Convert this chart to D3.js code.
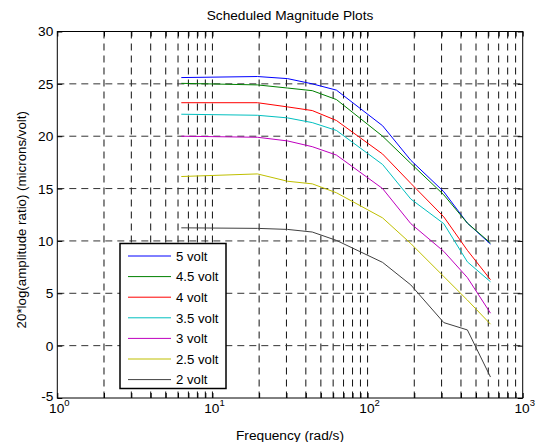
<!DOCTYPE html>
<html>
<head>
<meta charset="utf-8">
<script src="https://cdn.jsdelivr.net/npm/d3@7"></script>
<style>
  body { margin: 0; background: #fff; }
  svg { display: block; font-family: "Liberation Sans", Arial, sans-serif; }
</style>
</head>
<body>
<div class="main_area"></div>
<script>
// frequencies (rad/s) where the curves were sampled
const freq = [6.3, 19.5, 30.5, 44, 63, 125, 190, 310, 440, 620];

const volt5   = [25.6, 25.7, 25.5, 25.0, 24.4, 21.0, 17.7, 14.7, 11.7, 9.7];
const volt4_5 = [25.05, 24.9, 24.6, 24.35, 23.5, 20.0, 17.4, 14.4, 11.7, 9.8];
const volt4   = [23.2, 23.2, 22.8, 22.45, 21.5, 18.3, 15.5, 12.3, 9.1, 6.3];
const volt3_5 = [22.1, 22.0, 21.75, 21.3, 20.55, 17.3, 14.0, 11.65, 8.0, 6.1];
const volt3   = [20.0, 19.9, 19.55, 19.0, 18.2, 15.0, 11.65, 9.0, 6.5, 3.1];
const volt2_5 = [16.15, 16.4, 15.7, 15.45, 14.6, 12.2, 9.75, 6.6, 4.35, 2.05];
const volt2   = [11.25, 11.2, 11.1, 10.85, 10.05, 7.95, 5.8, 2.2, 1.5, -3.0];

const seriesNames = ["5 volt", "4.5 volt", "4 volt", "3.5 volt", "3 volt", "2.5 volt", "2 volt"];
const seriesValues = [volt5, volt4_5, volt4, volt3_5, volt3, volt2_5, volt2];
const seriesColors = ["#0000ff", "#008000", "#ff0000", "#00bfbf", "#bf00bf", "#bfbf00", "#404040"];

const yTicks = [-5, 0, 5, 10, 15, 20, 25, 30];
const xDecades = [1, 10, 100, 1000];

const width = 536, height = 442;
const plotLeft = 57.3, plotRight = 522.7, plotTop = 31.5, plotBottom = 398;
const fontSize = 13.7;

const svg = d3.select(".main_area")
  .append("svg")
  .attr("width", width)
  .attr("height", height);

const x = d3.scaleLog()
  .domain([1, 1000])
  .range([plotLeft, plotRight]);

const y = d3.scaleLinear()
  .domain([-5, 30])
  .range([plotBottom, plotTop]);

// all log grid positions: 1..9, 10..90, 100..900, 1000
const xGrid = [];
for (let d = 1; d < 1000; d *= 10) {
  for (let k = 1; k < 10; k++) xGrid.push(d * k);
}
xGrid.push(1000);

// grid lines
const grid = svg.append("g").attr("class", "grid");
grid.selectAll("line.vx")
  .data(xGrid.filter(d => d > 1 && d < 1000))
  .enter().append("line")
    .attr("class", "vx")
    .attr("x1", d => x(d)).attr("x2", d => x(d))
    .attr("y1", plotTop).attr("y2", plotBottom)
    .attr("stroke", "#111")
    .attr("stroke-width", 1)
    .attr("stroke-dasharray", "7,5");

grid.selectAll("line.hy")
  .data(yTicks.filter(d => d > -5 && d < 30))
  .enter().append("line")
    .attr("class", "hy")
    .attr("x1", plotLeft).attr("x2", plotRight)
    .attr("y1", d => y(d)).attr("y2", d => y(d))
    .attr("stroke", "#333")
    .attr("stroke-width", 1)
    .attr("stroke-dasharray", "7,5");

// inward ticks on all four sides
const xAxisB = d3.axisBottom(x).tickValues(xGrid).tickSize(-5).tickFormat("");
const xAxisT = d3.axisTop(x).tickValues(xGrid).tickSize(-5).tickFormat("");
const yAxisL = d3.axisLeft(y).tickValues(yTicks).tickSize(-5).tickFormat("");
const yAxisR = d3.axisRight(y).tickValues(yTicks).tickSize(-5).tickFormat("");

[[xAxisB, `translate(0,${plotBottom})`], [xAxisT, `translate(0,${plotTop})`],
 [yAxisL, `translate(${plotLeft},0)`], [yAxisR, `translate(${plotRight},0)`]]
  .forEach(([ax, tr]) => {
    const g = svg.append("g").attr("transform", tr).call(ax);
    g.select(".domain").remove();
    g.selectAll("line").attr("stroke", "#000");
  });

// curves
const line = d3.line()
  .x((d, i) => x(freq[i]))
  .y(d => y(d));

svg.append("g")
  .selectAll("path")
  .data(seriesValues)
  .enter().append("path")
    .attr("d", line)
    .attr("fill", "none")
    .attr("stroke", (d, i) => seriesColors[i])
    .attr("stroke-width", 1);

// frame
svg.append("rect")
  .attr("x", plotLeft).attr("y", plotTop)
  .attr("width", plotRight - plotLeft)
  .attr("height", plotBottom - plotTop)
  .attr("fill", "none")
  .attr("stroke", "#000")
  .attr("stroke-width", 1);

// y tick labels
svg.append("g")
  .selectAll("text")
  .data(yTicks)
  .enter().append("text")
    .attr("x", plotLeft - 4)
    .attr("y", d => y(d) - (d === -5 ? 2 : 0))
    .attr("dy", "0.36em")
    .attr("text-anchor", "end")
    .attr("font-size", fontSize)
    .text(d => d);

// x tick labels 10^n
const xl = svg.append("g")
  .selectAll("text")
  .data(xDecades)
  .enter().append("text")
    .attr("x", d => x(d) + 2)
    .attr("y", 413)
    .attr("text-anchor", "middle")
    .attr("font-size", fontSize);
xl.append("tspan").text("10");
xl.append("tspan")
  .attr("font-size", 9.5)
  .attr("dy", -7)
  .text(d => Math.round(Math.log10(d)));

// title and axis labels
svg.append("text")
  .attr("x", (plotLeft + plotRight) / 2)
  .attr("y", 20)
  .attr("text-anchor", "middle")
  .attr("font-size", fontSize)
  .text("Scheduled Magnitude Plots");

svg.append("text")
  .attr("x", (plotLeft + plotRight) / 2)
  .attr("y", 439.5)
  .attr("text-anchor", "middle")
  .attr("font-size", fontSize)
  .text("Frequency (rad/s)");

svg.append("text")
  .attr("transform", `translate(26,${(plotTop + plotBottom) / 2 + 5}) rotate(-90)`)
  .attr("text-anchor", "middle")
  .attr("font-size", 13.3)
  .text("20*log(amplitude ratio) (microns/volt)");

// legend
const legend = svg.append("g").attr("transform", "translate(120,243.5)");
legend.append("rect")
  .attr("width", 106)
  .attr("height", 145)
  .attr("fill", "#fff")
  .attr("stroke", "#000")
  .attr("stroke-width", 1.5);

const rows = legend.selectAll("g.row")
  .data(seriesNames)
  .enter().append("g")
    .attr("class", "row")
    .attr("transform", (d, i) => `translate(0,${12.5 + i * 20.6})`);
rows.append("line")
  .attr("x1", 8).attr("x2", 51)
  .attr("stroke", (d, i) => seriesColors[i])
  .attr("stroke-width", 1);
rows.append("text")
  .attr("x", 56)
  .attr("dy", "0.36em")
  .attr("font-size", 13.2)
  .text(d => d);
</script>
</body>
</html>
